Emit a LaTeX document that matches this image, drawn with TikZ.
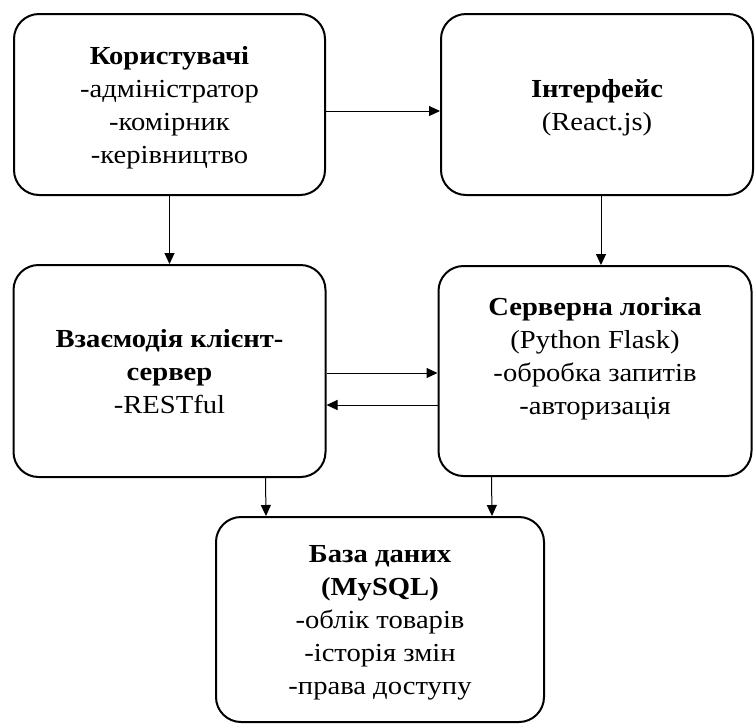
\documentclass[tikz,border=0pt]{standalone}
\usepackage{fontspec}
\setmainfont{Liberation Serif}[FakeStretch=1.1]
\usetikzlibrary{arrows.meta,positioning}
\tikzstyle{arrow} = [line width=1pt,-{Triangle[length=11pt,width=10pt]}]
\tikzstyle{block} = [rectangle, rounded corners=25pt, draw, line width=2pt, align=center, text depth=0pt, font=\fontsize{26}{33}\selectfont]

\begin{document}
\begin{tikzpicture}[x=1pt,y=-1pt]
\useasboundingbox (0,0) rectangle (756,724);
% Top row
\node (users) [block, minimum width=311pt, minimum height=181pt] at (169.5,104.5) {\textbf{Користувачі}\\-адміністратор\\-комірник\\-керівництво};
\node (ui) [block, right of=users, node distance=427.5pt, minimum width=312pt, minimum height=181pt] {\textbf{Інтерфейс}\\(React.js)};

% Middle row
\node (client) [block, below of=users, node distance=266.5pt, minimum width=312pt, minimum height=212pt] {\textbf{Взаємодія клієнт-}\\\textbf{сервер}\\-RESTful};
\node (server) [block, right of=client, node distance=425.5pt, minimum width=313pt, minimum height=210pt, text depth=30pt] {\textbf{Серверна логіка}\\(Python Flask)\\-обробка запитів\\-авторизація};

% Database
\node (db) [block, minimum width=328pt, minimum height=205pt] at (380,619.5) {\textbf{База даних}\\\textbf{(MySQL)}\\-облік товарів\\-історія змін\\-права доступу};

% Connections
\draw[arrow] ([yshift=-6.5pt]users.east) -- ([yshift=-6.5pt]ui.west);
\draw[arrow] (users.south) -- (client.north);
\draw[arrow] ([xshift=4pt]ui.south) -- ([xshift=4pt]ui.south |- server.north);
\draw[arrow] ([yshift=-2pt]client.east) -- ([yshift=-2pt]client.east -| server.west);
\draw[arrow] ([yshift=-34pt]server.west) -- ([yshift=-34pt]server.west -| client.east);
\draw[arrow] ([xshift=96pt]client.south) -- ([xshift=-114pt]db.north);
\draw[arrow] ([xshift=-103.5pt]server.south) -- ([xshift=112pt]db.north);
\end{tikzpicture}
\end{document}
